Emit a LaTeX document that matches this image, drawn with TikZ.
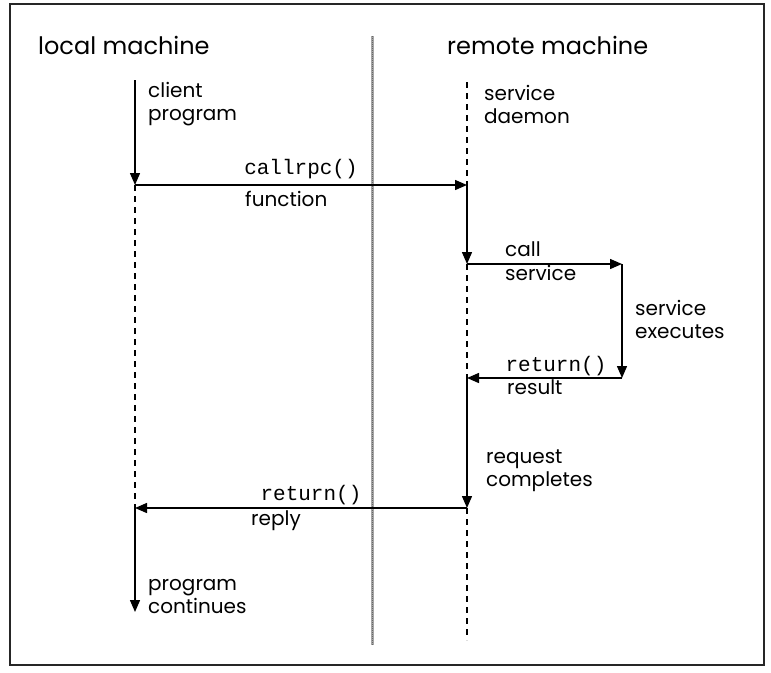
\documentclass[tikz,border=0pt]{standalone}
\usepackage{fontspec}
\setmainfont{Poppins}
\setmonofont{Liberation Mono}
\usetikzlibrary{arrows.meta}
\begin{document}
\begin{tikzpicture}[x=1pt,y=-1pt,
  flow/.style={line width=1.4pt,-{Triangle[length=12pt,width=10pt]}},
  idle/.style={line width=1.7pt,dash pattern=on 6pt off 5pt},
  lbl/.style={anchor=west,inner sep=0pt,align=left,font=\fontsize{20}{23}\selectfont},
  head/.style={anchor=west,inner sep=0pt,font=\fontsize{24}{28}\selectfont},
  code/.style={inner sep=0pt,font=\fontsize{21}{22}\ttfamily}]
\useasboundingbox (0,0) rectangle (771,672);
% frame
\draw[line width=1.5pt,black!85] (10,4) rectangle (764,665);
% machine boundary
\coordinate (divtop) at (372,36);
\coordinate (divbot) at (372,645);
\draw[line width=3pt,black!35] (divtop) -- (divbot);
\draw[line width=0.8pt,black!60,dash pattern=on 1pt off 1pt] (divtop) -- (divbot);
% headings
\node[head] (local) at (38,45) {local machine};
\node[head] (remote) at (447,45) {remote machine};
% lifeline points
\coordinate (L0) at (135,80);
\coordinate (L1) at (135,185);
\coordinate (L2) at (135,508);
\coordinate (L3) at (135,612);
\coordinate (R0) at (467,82);
\coordinate (R1) at (467,185);
\coordinate (R2) at (467,264);
\coordinate (R3) at (467,378);
\coordinate (R4) at (467,508);
\coordinate (R5) at (467,640);
\coordinate (S1) at (622,264);
\coordinate (S2) at (622,378);
% local lifeline
\draw[flow] (L0) -- (L1);
\draw[idle] (L1) -- (L2);
\draw[flow] (L2) -- (L3);
% remote lifeline
\draw[idle] (R0) -- (R1);
\draw[flow] (R1) -- (R2);
\draw[idle] (R2) -- (R3);
\draw[flow] (R3) -- (R4);
\draw[idle] (R4) -- (R5);
% messages
\draw[flow] (L1) -- (R1);
\draw[flow] (R2) -- (S1);
\draw[flow] (S1) -- (S2);
\draw[flow] (S2) -- (R3);
\draw[flow] (R4) -- (L2);
% labels
\node[lbl] (client) at (148,104) {client\\program};
\node[lbl] (daemon) at (484,104) {service\\daemon};
\node[code] (callrpc) at (301,169) {callrpc()};
\node[lbl] (function) at (245,199) {function};
\node[lbl] (call) at (505,249) {call};
\node[lbl] (svc) at (505,273) {service};
\node[lbl] (exec) at (635,319) {service\\executes};
\node[code] (ret1) at (556,366) {return()};
\node[lbl] (result) at (507,387) {result};
\node[lbl] (reqdone) at (486,471) {request\\completes};
\node[code] (ret2) at (311,495) {return()};
\node[lbl] (reply) at (251,521) {reply};
\node[lbl] (cont) at (148,597) {program\\continues};
\end{tikzpicture}
\end{document}
